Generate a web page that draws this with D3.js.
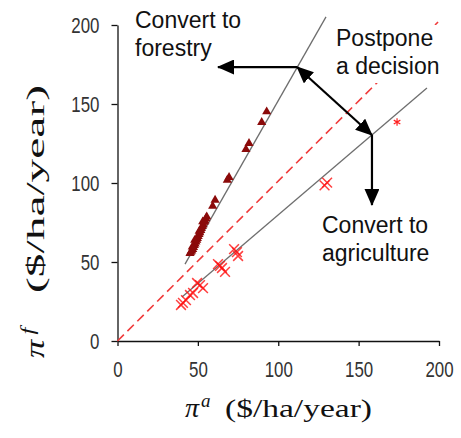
<!DOCTYPE html>
<html>
<head>
<meta charset="utf-8">
<script src="https://cdn.jsdelivr.net/npm/d3@7"></script>
<style>
  body { margin: 0; background: #fff; }
  svg { display: block; }
</style>
</head>
<body>
<svg class="svg1" width="461" height="438"></svg>
<script>
// tick values for both axes
var xTickVals = [0, 50, 100, 150, 200];
var yTickVals = [0, 50, 100, 150, 200];

// forestry observations (triangles), [pi_a, pi_f]
var forestryPts = [
    [92.8, 145.1], [89.7, 138.4], [81.8, 125.1], [79.9, 121.3],
    [69.4, 103.6], [68.3, 101.9], [60.7, 89.2], [59.2, 85.4],
    [55.5, 78.7], [55.0, 77.5], [54.4, 76.0], [53.9, 75.2], [53.3, 73.6],
    [52.8, 72.5], [52.2, 71.3], [51.8, 70.0], [51.2, 68.6], [50.7, 67.5],
    [50.2, 66.2], [49.7, 65.0], [49.3, 63.9], [48.8, 62.8], [48.3, 61.4],
    [47.8, 60.5], [47.3, 59.2], [46.8, 58.0], [46.2, 57.0], [45.6, 56.2],
    [45.1, 55.5], [50.8, 69.5], [48.0, 63.8], [53.0, 75.5], [46.5, 59.5]
];

// agriculture observations (crosses)
var agriPts = [
    [74.3, 56.3], [72.5, 58.2], [75.0, 53.8], [65.0, 46.2], [66.9, 43.7],
    [62.5, 48.7], [63.8, 47.5], [51.3, 35.4], [53.2, 33.5], [49.5, 36.7],
    [45.1, 29.1], [47.0, 30.4], [40.7, 24.1], [39.5, 22.8], [42.6, 25.9],
    [128.8, 98.5], [130.4, 100.2]
];
var agriSmallPts = [[173.9, 138.6]];

// threshold lines
var forestLine = [[42.0, 48.7], [129.7, 205.1]];
var agriLine = [[40.1, 27.8], [192.5, 160.1]];
var equalLine = [[0, 0], [199.4, 201.9]];

// arrow anchor points (data coords)
var ptForest = [111.7, 173.4];
var ptAgri = [158.3, 130.4];
var tipLeft = [62.5, 173.4];
var tipDown = [158.3, 86.1];

var svg1 = d3.select(".svg1");

var scaleX = d3.scaleLinear().domain([0, 200]).range([117.5, 439]);
var scaleY = d3.scaleLinear().domain([0, 200]).range([341, 25]);

var xAxis = d3.axisBottom(scaleX).tickValues(xTickVals).tickSize(5).tickSizeOuter(0).tickPadding(15);
var yAxis = d3.axisLeft(scaleY).tickValues(yTickVals).tickSize(6).tickSizeOuter(0).tickPadding(12);

var gx = svg1.append("g")
    .attr("transform", "translate(0," + scaleY(0) + ")")
    .call(xAxis);
var gy = svg1.append("g")
    .attr("transform", "translate(" + scaleX(0) + ",0)")
    .call(yAxis);

// tick labels in the original are a narrow face: squeeze them
[gx, gy].forEach(function(g) {
    g.selectAll("path, line").attr("stroke", "#111").style("stroke-width", "1.3px");
    g.selectAll("text")
        .style("font-family", "'Liberation Sans', Arial, sans-serif")
        .style("font-size", "22px")
        .attr("fill", "#333")
        .attr("textLength", function(d) { return String(d).length * 9.4; })
        .attr("lengthAdjust", "spacingAndGlyphs");
});

var line = d3.line()
    .x(function(d) { return scaleX(d[0]); })
    .y(function(d) { return scaleY(d[1]); });

svg1.append("path").datum(equalLine)
    .attr("d", line)
    .attr("fill", "none")
    .attr("stroke", "#f03a3a")
    .attr("stroke-width", 1.6)
    .attr("stroke-dasharray", "9,5");

svg1.append("path").datum(forestLine)
    .attr("d", line).attr("fill", "none")
    .attr("stroke", "#6e6e6e").attr("stroke-width", 1.3);
svg1.append("path").datum(agriLine)
    .attr("d", line).attr("fill", "none")
    .attr("stroke", "#6e6e6e").attr("stroke-width", 1.3);

// markers
var triSym = d3.symbol().type(d3.symbolTriangle).size(36);
svg1.selectAll(".forestry")
    .data(forestryPts)
    .enter()
    .append("path")
    .attr("class", "forestry")
    .attr("d", triSym)
    .attr("transform", function(d) { return "translate(" + scaleX(d[0]) + "," + scaleY(d[1]) + ")"; })
    .attr("fill", "#8b0a0a");

var timesType = d3.symbolTimes || {
    draw: function(ctx, size) {
        var r = Math.sqrt(size) * 0.6;
        ctx.moveTo(-r, -r); ctx.lineTo(r, r);
        ctx.moveTo(-r, r); ctx.lineTo(r, -r);
    }
};

svg1.selectAll(".agri")
    .data(agriPts)
    .enter()
    .append("path")
    .attr("class", "agri")
    .attr("d", d3.symbol().type(timesType).size(64))
    .attr("transform", function(d) { return "translate(" + scaleX(d[0]) + "," + scaleY(d[1]) + ")"; })
    .attr("fill", "none")
    .attr("stroke", "#ff1010")
    .attr("stroke-opacity", 0.8)
    .attr("stroke-width", 1.5);

svg1.selectAll(".agriSmall")
    .data(agriSmallPts)
    .enter()
    .append("path")
    .attr("class", "agriSmall")
    .attr("d", d3.symbol().type(d3.symbolAsterisk || timesType).size(40))
    .attr("transform", function(d) { return "translate(" + scaleX(d[0]) + "," + scaleY(d[1]) + ")"; })
    .attr("fill", "none")
    .attr("stroke", "#ff2020")
    .attr("stroke-width", 1.2);

// annotation labels
var LABEL_FONT = "'Liberation Sans', Arial, sans-serif";
function label(x, y, lines, box) {
    if (box) {
        svg1.append("rect")
            .attr("x", x - 6).attr("y", y - 21)
            .attr("width", box[0]).attr("height", box[1])
            .attr("fill", "#fff");
    }
    var t = svg1.append("text")
        .attr("x", x).attr("y", y)
        .style("font-family", LABEL_FONT)
        .style("font-size", "23px")
        .attr("fill", "#111");
    lines.forEach(function(s, i) {
        t.append("tspan").attr("x", x).attr("dy", i == 0 ? 0 : 28).text(s);
    });
}
label(135, 28, ["Convert to", "forestry"]);
label(336, 46, ["Postpone", "a decision"], [120, 58]);
label(322, 233, ["Convert to", "agriculture"]);

// arrows
var defs = svg1.append("defs");
defs.append("marker")
    .attr("id", "head")
    .attr("viewBox", "0 0 17 15")
    .attr("refX", 16).attr("refY", 7.5)
    .attr("markerWidth", 17).attr("markerHeight", 15)
    .attr("markerUnits", "userSpaceOnUse")
    .attr("orient", "auto-start-reverse")
    .append("path")
    .attr("d", "M0,0 L17,7.5 L0,15 Z")
    .attr("fill", "#000");

function arrow(a, b, both) {
    var p = svg1.append("line")
        .attr("x1", scaleX(a[0])).attr("y1", scaleY(a[1]))
        .attr("x2", scaleX(b[0])).attr("y2", scaleY(b[1]))
        .attr("stroke", "#000")
        .attr("stroke-width", 2.2)
        .attr("marker-end", "url(#head)");
    if (both) p.attr("marker-start", "url(#head)");
}
arrow(ptForest, tipLeft, false);
arrow(ptForest, ptAgri, true);
arrow(ptAgri, tipDown, false);

// axis titles
var SERIF = "'Liberation Serif', 'Times New Roman', serif";
function axisTitle(transform, sup, supX, parenX, parenLen) {
    var g = svg1.append("g").attr("transform", transform)
        .style("font-family", SERIF).attr("fill", "#111");
    g.append("text").attr("x", 0).attr("y", 0)
        .style("font-size", "28px").style("font-style", "italic").text("π");
    g.append("text").attr("x", supX).attr("y", -10)
        .style("font-size", "19px").style("font-style", "italic").text(sup);
    g.append("text").attr("x", parenX).attr("y", 0)
        .style("font-size", "25px")
        .attr("textLength", parenLen)
        .attr("lengthAdjust", "spacingAndGlyphs")
        .text("($/ha/year)");
}
axisTitle("translate(185,417)", "a", 16, 40, 147);
axisTitle("translate(44,358) rotate(-90) scale(1.3,1)", "f", 18, 50, 160);
</script>
</body>
</html>
